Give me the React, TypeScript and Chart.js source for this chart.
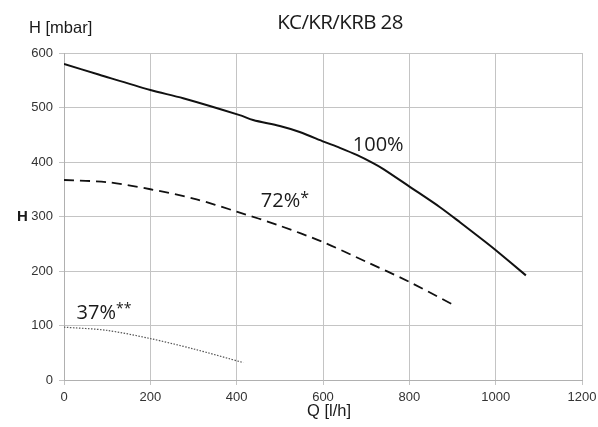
import React, { useEffect, useRef } from "react";
import { Chart, registerables } from "chart.js";

Chart.register(...registerables);

const xTicks = [0, 200, 400, 600, 800, 1000, 1200];
const yTicks = [0, 100, 200, 300, 400, 500, 600];

const q100 = [0, 82, 200, 276, 407, 438, 500, 546, 603, 639, 678, 716, 740, 802, 871, 918, 972, 999, 1070];
const h100 = [580, 560, 532, 517, 486, 477, 466, 455, 437, 426, 413, 398, 387, 354, 317, 289, 256, 239, 192];

const q72 = [0, 100, 200, 300, 400, 500, 600, 700, 800, 904];
const h72 = [367, 363, 350, 333, 309, 283, 253, 217, 180, 137];

const q37 = [0, 100, 200, 300, 415];
const h37 = [97, 91, 76, 57, 32];

const title = "KC/KR/KRB 28";
const yTitle = "H [mbar]";
const xTitle = "Q [l/h]";
const hLabel = "H";

const toPts = (xs: number[], ys: number[]) => xs.map((x, i) => ({ x, y: ys[i] }));

const textPlugin = {
  id: "texts",
  afterDraw(chart: any) {
    const ctx = chart.ctx;
    const xs = chart.scales.x;
    const ys = chart.scales.y;
    ctx.save();
    ctx.fillStyle = "#1a1a1a";
    ctx.textBaseline = "middle";
    ctx.textAlign = "center";
    ctx.font = "20.5px 'Open Sans'";
    try { (ctx as any).letterSpacing = "-0.6px"; } catch (e) {}
    ctx.fillText(title, 340, 23);
    try { (ctx as any).letterSpacing = "0px"; } catch (e) {}
    ctx.font = "16.5px 'Liberation Sans'";
    ctx.textAlign = "left";
    ctx.fillText(yTitle, 29, 28);
    ctx.font = "16.5px 'Liberation Sans'";
    ctx.fillText(xTitle, 307, 411);
    ctx.font = "bold 15px 'Liberation Sans'";
    ctx.fillText(hLabel, 17, ys.getPixelForValue(300));

    ctx.font = "20px 'Open Sans'";
    ctx.fillText("100%", xs.getPixelForValue(669), ys.getPixelForValue(431));
    ctx.fillText("72%", xs.getPixelForValue(456), ys.getPixelForValue(327));
    const w72 = ctx.measureText("72%").width;
    ctx.font = "16px 'Open Sans'";
    ctx.fillText("*", xs.getPixelForValue(456) + w72, ys.getPixelForValue(333));
    ctx.font = "20px 'Open Sans'";
    ctx.fillText("37%", xs.getPixelForValue(29), ys.getPixelForValue(123));
    const w37 = ctx.measureText("37%").width;
    ctx.font = "14px 'Open Sans'";
    ctx.fillText("**", xs.getPixelForValue(29) + w37, ys.getPixelForValue(131));
    ctx.restore();
  },
};

export default function App() {
  const ref = useRef<HTMLCanvasElement>(null);
  useEffect(() => {
    if (!ref.current) return;
    const chart = new Chart(ref.current, {
      type: "scatter",
      data: {
        datasets: [
          {
            data: toPts(q100, h100),
            showLine: true,
            borderColor: "#111",
            borderWidth: 2,
            pointRadius: 0,
            tension: 0.3,
          },
          {
            data: toPts(q72, h72),
            showLine: true,
            borderColor: "#111",
            borderWidth: 1.8,
            borderDash: [10, 6],
            pointRadius: 0,
            tension: 0.3,
          },
          {
            data: toPts(q37, h37),
            showLine: true,
            borderColor: "#555",
            borderWidth: 1.2,
            borderDash: [1.5, 1.5],
            pointRadius: 0,
            tension: 0.3,
          },
        ],
      },
      options: {
        animation: false,
        responsive: false,
        maintainAspectRatio: false,
        layout: { padding: { left: 0, right: 16, top: 53, bottom: 0 } },
        plugins: { legend: { display: false }, tooltip: { enabled: false } },
        scales: {
          x: {
            type: "linear",
            min: 0,
            max: 1200,
            afterBuildTicks: (s: any) => {
              s.ticks = xTicks.map((v) => ({ value: v }));
            },
            afterFit: (s: any) => {
              s.height = 47;
              s.paddingRight = 0;
              s.paddingLeft = 0;
            },
            grid: { color: "#c4c4c4", tickLength: 5, lineWidth: 1 },
            border: { color: "#b0b0b0" },
            ticks: {
              color: "#333",
              font: { family: "'Liberation Sans'", size: 13 },
              padding: 5,
              maxRotation: 0,
              callback: (v: any) => String(v),
            },
          },
          y: {
            type: "linear",
            min: 0,
            max: 600,
            afterBuildTicks: (s: any) => {
              s.ticks = yTicks.map((v) => ({ value: v }));
            },
            afterFit: (s: any) => {
              s.width = 64;
            },
            grid: { color: "#c4c4c4", tickLength: 5, lineWidth: 1 },
            border: { color: "#b0b0b0" },
            ticks: {
              color: "#333",
              font: { family: "'Liberation Sans'", size: 13 },
              padding: 6,
              callback: (v: any) => String(v),
            },
          },
        },
      },
      plugins: [textPlugin],
    } as any);
    return () => chart.destroy();
  }, []);
  return (
    <div style={{ position: "fixed", left: 0, top: 0, width: 598, height: 427, background: "#fff" }}>
      <canvas ref={ref} width={598} height={427} style={{ width: 598, height: 427 }} />
    </div>
  );
}
